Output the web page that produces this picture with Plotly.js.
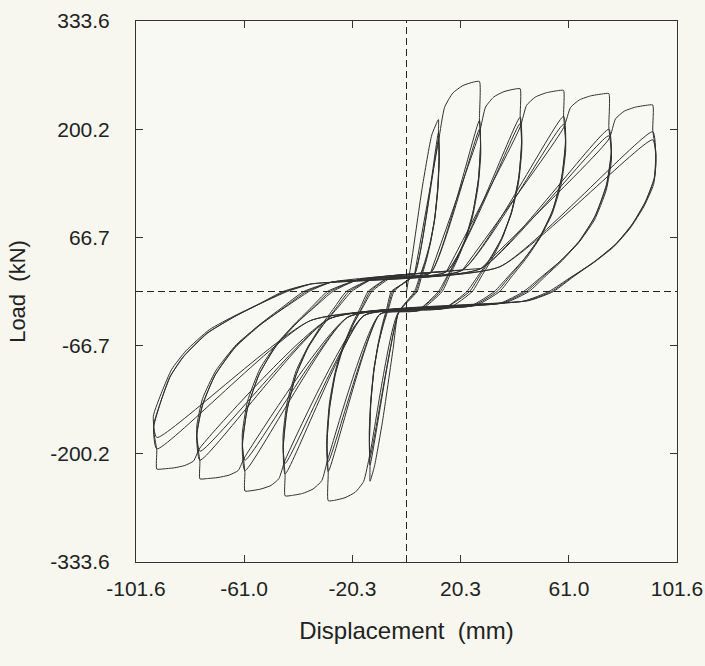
<!DOCTYPE html>
<html>
<head>
<meta charset="utf-8">
<script src="https://cdn.plot.ly/plotly-3.0.1.min.js"></script>
<style>
html,body{margin:0;padding:0;background:#f7f7f0;}
#chart{width:705px;height:666px;}
</style>
</head>
<body>
<div id="chart"></div>
<script>
// Displacement (mm) / Load (kN), one pair per amplitude group
const dispA1 = [0,2,6,9.5,12,12,12.2,11.8,10.6,9.1,7.4,5.6,4.0,-3,-5,-9,-12,-13.7,-13.7,-13.9,-13.5,-12.3,-10.8,-9.1,-7.3,-5.7,3,12,12.3,11.7,10.6,8.9,7.1,5.2,3.5,-3,-13.7,-13.9,-13.4,-12.3,-10.6,-8.8,-6.9,-5.2,3,12,12.3,11.7,10.5,8.8,6.8,4.8,3.0,-3,-13.7,-14.0,-13.4,-12.2,-10.5,-8.5,-6.5,-4.7,3];
const loadA1 = [0,40,130,193,212,198,168.3,128.7,91.1,61.4,37.6,17.8,0,-25.9,-70,-160,-215,-234,-216,-183.6,-140.4,-99.4,-67,-41,-19.4,0,20.9,196,166.6,127.4,90.2,60.8,37.2,17.6,0,-25.9,-214,-181.9,-139.1,-98.4,-66.3,-40.7,-19.3,0,20.9,188,159.8,122.2,86.5,58.3,35.7,16.9,0,-25.9,-205,-174.3,-133.3,-94.3,-63.6,-39,-18.5,0,20.9];

const dispA2 = [3,12,14.3,17.4,21.2,25.1,27.4,27.4,27.8,27.0,25.0,22.4,19.3,16.2,13.4,5,-3,-13.7,-16.1,-19.2,-23.1,-27.0,-29.4,-29.4,-29.9,-29.0,-26.9,-24.0,-20.7,-17.4,-14.4,-6,9,27.4,27.8,27.0,24.9,22.1,18.9,15.6,12.7,4,-10,-29.4,-29.9,-28.9,-26.7,-23.7,-20.3,-16.8,-13.7,-6,9,27.4,27.9,26.9,24.8,21.9,18.5,15.1,12.0,4,-10,-29.4,-29.9,-28.9,-26.6,-23.5,-19.9,-16.3,-13.0,-5,9];
const loadA2 = [20.9,185,227.1,244.8,254,258.3,259,213,181.1,138.5,98,66,40.5,19.2,0,-23.5,-25.9,-200,-234.2,-247.4,-254.3,-257.5,-258,-224,-190.4,-145.6,-103,-69.4,-42.6,-20.2,0,18.2,22.7,211,179.4,137.2,97.1,65.4,40.1,19,0,-23.8,-28,-222,-188.7,-144.3,-102.1,-68.8,-42.2,-20,0,18.2,22.7,200,170,130,92,62,38,18,0,-23.8,-28,-210,-178.5,-136.5,-96.6,-65.1,-39.9,-18.9,0,18.5,22.7];

const dispA3 = [9,27.4,29.7,32.8,36.6,40.4,42.7,42.7,43.2,42.2,39.6,36.2,32.3,28.3,24.7,16,-10,-29.4,-31.8,-35.1,-39.1,-43.2,-45.6,-45.6,-46.3,-44.9,-41.7,-37.3,-32.3,-27.2,-22.6,-12,15,42.7,43.3,42.1,39.5,35.9,31.7,27.5,23.7,14,-16,-45.6,-46.3,-44.9,-41.5,-37.0,-31.7,-26.4,-21.6,-12,15,42.7,43.3,42.1,39.3,35.5,31.1,26.7,22.7,14,-16,-45.6,-46.4,-44.9,-41.4,-36.6,-31.1,-25.6,-20.6,-12,15];
const loadA3 = [22.7,196,227.5,240,246.5,249.5,250,217,184.5,141,99.8,67.3,41.2,19.5,0,-20.2,-28,-205,-233.1,-243.6,-249.1,-251.6,-252,-227,-193,-147.6,-104.4,-70.4,-43.1,-20.4,0,16.4,24.5,215,182.8,139.8,98.9,66.7,40.9,19.4,0,-20.8,-29.8,-225,-191.3,-146.3,-103.5,-69.8,-42.8,-20.3,0,16.4,24.5,207,176,134.6,95.2,64.2,39.3,18.6,0,-20.8,-29.8,-212,-180.2,-137.8,-97.5,-65.7,-40.3,-19.1,0,16.4,24.5];

const dispA4 = [15,42.7,45.1,48.4,52.5,56.6,59,59,59.7,58.3,54.9,50.4,45.1,39.8,35.0,26,-16,-45.6,-47.9,-50.9,-54.7,-58.4,-60.7,-60.7,-61.6,-59.8,-55.4,-49.5,-42.7,-35.9,-29.7,-18,21,59,59.8,58.3,54.8,50.0,44.5,39.0,34.0,25,-22,-60.7,-61.7,-59.7,-55.3,-49.2,-42.1,-35.1,-28.7,-18,21,59,59.8,58.2,54.6,49.6,43.9,38.2,33.0,24,-22,-60.7,-61.7,-59.7,-55.1,-48.8,-41.6,-34.3,-27.7,-18,21];
const loadA4 = [24.5,203,229.6,239.8,245.1,247.6,248,218,185.3,141.7,100.3,67.6,41.4,19.6,0,-17.2,-29.8,-208,-230.7,-239.2,-243.6,-245.7,-246,-223,-189.6,-145,-102.6,-69.1,-42.4,-20.1,0,14.6,26.3,216,183.6,140.4,99.4,67,41,19.4,0,-17.5,-31.6,-221,-187.9,-143.7,-101.7,-68.5,-42,-19.9,0,14.6,26.3,206,175.1,133.9,94.8,63.9,39.1,18.5,0,-17.8,-31.6,-208,-176.8,-135.2,-95.7,-64.5,-39.5,-18.7,0,14.6,26.3];

const dispA5 = [21,59,61.6,65.0,69.2,73.5,76,76,76.9,75.1,70.9,65.2,58.6,52.0,46.0,37,-22,-60.7,-63.2,-66.6,-70.8,-75.1,-77.6,-77.6,-78.8,-76.6,-72.0,-64.6,-55.6,-46.8,-38.6,-28,28,76,76.9,75.1,70.7,64.8,58.0,51.2,45.0,36,-29,-77.6,-78.8,-76.6,-71.8,-64.2,-55.0,-46.0,-37.6,-28,28,76,77.0,75.0,70.6,64.5,57.4,50.4,44.0,35,-29,-77.6,-78.8,-76.6,-71.6,-63.8,-54.4,-45.2,-36.6,-28,28];
const loadA5 = [26.3,202,226.9,236.4,241.3,243.6,244,203,172.6,132,93.4,62.9,38.6,18.3,0,-13.9,-31.6,-204,-220.7,-226.4,-229.4,-230.8,-231,-210,-178.5,-140.5,-103.6,-69.1,-41.9,-19.9,0,11.6,28.4,200,170,130,92,62,38,18,0,-14.2,-33.7,-208,-176.8,-139.2,-102.7,-68.5,-41.5,-19.7,0,11.6,28.4,192,163.2,124.8,88.3,59.5,36.5,17.3,0,-14.5,-33.7,-197,-167.5,-132.1,-97.6,-65.1,-39.4,-18.7,0,11.6,28.4];

const dispA6 = [28,76,78.5,81.8,85.9,90.0,92.5,92.5,93.7,93.2,90.0,85.0,78.8,71.2,62.6,55.2,46,-29,-77.6,-80.0,-83.3,-87.3,-91.4,-93.8,-93.8,-95.0,-92.2,-89.0,-84.0,-75.2,-65.2,-55.2,-46.4,-36,35,92.5,93.6,93.0,89.6,84.6,78.4,70.6,62.0,54.5,45,-36,-93.8,-95.0,-92.0,-88.6,-83.4,-74.6,-64.6,-54.6,-45.6,-36,35,92.5,93.7,92.8,89.2,84.0,77.8,70.0,61.2,53.5,44,-36,-93.8,-95.1,-91.8,-88.2,-82.8,-74.0,-64.0,-54.0,-44.8,-36];
const loadA6 = [28.4,188,212.9,222.4,227.3,229.6,230,199,170,141,112,84,59,38,18,0,-11.2,-33.7,-193,-209.1,-214.6,-217.5,-218.8,-219,-196,-168,-135,-106,-81,-52,-32,-15,0,9.2,30.5,197,168,139,110,82,58,37,17.5,0,-11.5,-35.8,-194,-165,-133,-104,-79,-51,-31,-14.5,0,9.2,30.5,187,160,132,105,78,55,35,16.5,0,-11.8,-35.8,-180,-154,-123,-96,-73,-47,-29,-13.5,0,9.2];

const xTicks = [-101.6, -61.0, -20.3, 20.3, 61.0, 101.6];
const xTickText = ['-101.6', '-61.0', '-20.3', '20.3', '61.0', '101.6'];
const yTicks = [-333.6, -200.2, -66.7, 66.7, 200.2, 333.6];
const yTickText = ['-333.6', '-200.2', '-66.7', '66.7', '200.2', '333.6'];

const groups = [[dispA1, loadA1], [dispA2, loadA2], [dispA3, loadA3], [dispA4, loadA4], [dispA5, loadA5], [dispA6, loadA6]];
const traces = groups.map(g => ({
  x: g[0], y: g[1], type: 'scatter', mode: 'lines',
  line: {color: '#303030', width: 1, shape: 'spline', smoothing: 0.5},
  hoverinfo: 'skip', showlegend: false
}));

const fam = 'Liberation Sans, Arial, Helvetica, sans-serif';
const layout = {
  width: 705, height: 666,
  margin: {l: 136, r: 28, t: 21, b: 104},
  paper_bgcolor: '#f7f7f0', plot_bgcolor: '#f9f9f3',
  font: {family: fam, color: '#222'},
  showlegend: false,
  xaxis: {
    range: [-101.6, 101.6], tickvals: xTicks, ticktext: xTickText,
    showgrid: false, zeroline: false, showline: true, linecolor: '#333', linewidth: 1,
    mirror: 'allticks', ticks: 'inside', ticklen: 7, tickcolor: '#333',
    ticklabelstandoff: 8,
    tickfont: {size: 21, family: fam, color: '#222'},
    title: {text: 'Displacement  (mm)', font: {size: 24, family: fam, color: '#222'}, standoff: 22}
  },
  yaxis: {
    range: [-333.6, 333.6], tickvals: yTicks, ticktext: yTickText,
    showgrid: false, zeroline: false, showline: true, linecolor: '#333', linewidth: 1,
    mirror: 'allticks', ticks: 'inside', ticklen: 7, tickcolor: '#333',
    ticklabelstandoff: 21,
    tickfont: {size: 21, family: fam, color: '#222'},
    title: {text: 'Load  (kN)', font: {size: 22, family: fam, color: '#222'}, standoff: 18}
  },
  shapes: [
    {type: 'line', xref: 'x', yref: 'y', x0: -101.6, x1: 101.6, y0: 0, y1: 0,
     line: {color: '#222', width: 1, dash: '7px,4px'}},
    {type: 'line', xref: 'x', yref: 'y', x0: 0, x1: 0, y0: -333.6, y1: 333.6,
     line: {color: '#222', width: 1, dash: '7px,4px'}}
  ]
};

Plotly.newPlot('chart', traces, layout, {staticPlot: true, displayModeBar: false});
</script>
</body>
</html>
